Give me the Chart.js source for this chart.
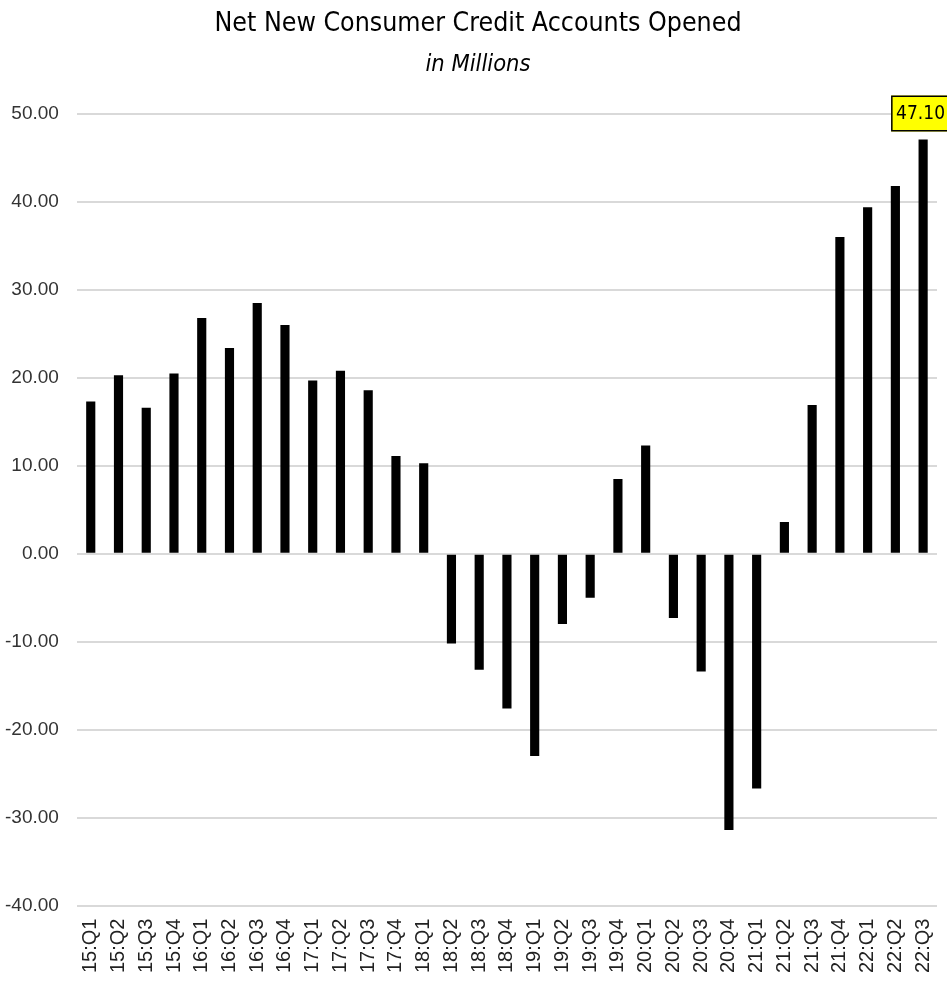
<!DOCTYPE html>
<html>
<head>
<meta charset="utf-8">
<script src="https://cdn.jsdelivr.net/npm/chart.js@4.4.0/dist/chart.umd.min.js"></script>
<style>
  html, body { margin: 0; padding: 0; background: #fff; }
  #wrap { width: 947px; height: 981px; position: relative; }
</style>
</head>
<body>
<div id="wrap"><canvas id="grafico"></canvas></div>
<script>
const trimestres = ['15:Q1','15:Q2','15:Q3','15:Q4','16:Q1','16:Q2','16:Q3','16:Q4',
    '17:Q1','17:Q2','17:Q3','17:Q4','18:Q1','18:Q2','18:Q3','18:Q4',
    '19:Q1','19:Q2','19:Q3','19:Q4','20:Q1','20:Q2','20:Q3','20:Q4',
    '21:Q1','21:Q2','21:Q3','21:Q4','22:Q1','22:Q2','22:Q3'];

// cuentas nuevas netas, en millones
const cuentasNetas = [17.3, 20.3, 16.6, 20.5, 26.8, 23.4, 28.5, 26.0,
    19.7, 20.8, 18.6, 11.1, 10.3, -10.2, -13.2, -17.6,
    -23.0, -8.0, -5.0, 8.5, 12.3, -7.3, -13.4, -31.4,
    -26.7, 3.6, 16.9, 36.0, 39.4, 41.8, 47.10];

const ejeMin = -40;
const ejeMax = 50;
const ejePaso = 10;

const fuenteTitulo = '"Liberation Sans Narrow", "DejaVu Sans Condensed", sans-serif';
const fuenteEjes = 'Arial, "Liberation Sans", sans-serif';

// etiqueta amarilla sobre la ultima barra
const etiquetaUltima = {
    id: 'etiquetaUltima',
    afterDatasetsDraw(chart) {
        const ctx = chart.ctx;
        const meta = chart.getDatasetMeta(0);
        const i = cuentasNetas.length - 1;
        const barra = meta.data[i];
        const texto = cuentasNetas[i].toFixed(2);
        ctx.save();
        ctx.font = '19px ' + fuenteTitulo;
        const w = ctx.measureText(texto).width + 10;
        const h = 36;
        let x = barra.x - w / 2;
        if (x + w > chart.width + 3) x = chart.width + 3 - w;
        const y = barra.y - h - 8;
        ctx.fillStyle = '#ffff00';
        ctx.fillRect(x, y, w, h);
        ctx.strokeStyle = '#000';
        ctx.lineWidth = 1.5;
        ctx.strokeRect(x + 0.75, y + 0.75, w - 1.5, h - 1.5);
        ctx.fillStyle = '#000';
        ctx.textAlign = 'center';
        ctx.textBaseline = 'middle';
        ctx.fillText(texto, x + w / 2, y + h / 2 + 1);
        ctx.restore();
    }
};

const ctx = document.getElementById('grafico').getContext('2d');
new Chart(ctx, {
    type: 'bar',
    data: {
        labels: trimestres,
        datasets: [{
            data: cuentasNetas,
            backgroundColor: '#000000',
            borderWidth: 0,
            barPercentage: 0.33,
            categoryPercentage: 1.0
        }]
    },
    options: {
        responsive: true,
        maintainAspectRatio: false,
        animation: false,
        layout: { padding: { top: 0, right: 10, left: 19, bottom: -5 } },
        plugins: {
            legend: { display: false },
            tooltip: { enabled: false },
            title: {
                display: true,
                text: 'Net New Consumer Credit Accounts Opened',
                color: '#000',
                font: { family: fuenteTitulo, size: 26.5, weight: 'normal' },
                padding: { top: 8, bottom: 11 }
            },
            subtitle: {
                display: true,
                text: 'in Millions',
                color: '#000',
                font: { family: fuenteTitulo, size: 23.5, style: 'italic' },
                padding: { top: 0, bottom: 35 }
            }
        },
        scales: {
            x: {
                grid: { display: false, drawTicks: false },
                border: { display: false },
                afterFit: escala => {
                    // que la ultima etiqueta no empuje el area hacia la izquierda
                    escala.paddingLeft = 0;
                    escala.paddingRight = 0;
                },
                ticks: {
                    color: '#222',
                    font: { family: fuenteEjes, size: 20 },
                    minRotation: 90,
                    maxRotation: 90,
                    autoSkip: false,
                    padding: 13
                }
            },
            y: {
                min: ejeMin,
                max: ejeMax,
                grid: { color: '#d9d9d9', lineWidth: 2, drawTicks: false },
                border: { display: false },
                afterFit: escala => {
                    // el titulo va centrado algo a la derecha, el eje ocupa menos
                    escala.width -= 32;
                    // sin recorte, las etiquetas salen del recuadro del eje
                    escala._computeLabelArea = () => undefined;
                },
                ticks: {
                    stepSize: ejePaso,
                    color: '#333',
                    padding: 18,
                    font: { family: fuenteEjes, size: 19 },
                    callback: v => v.toFixed(2)
                }
            }
        }
    },
    plugins: [etiquetaUltima]
});
</script>
</body>
</html>
